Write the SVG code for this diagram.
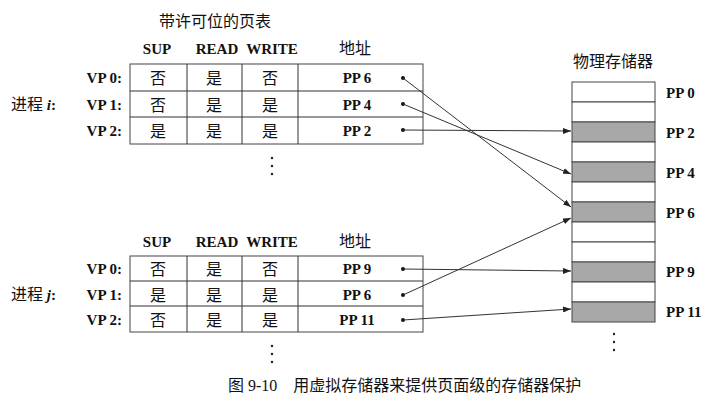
<svg xmlns="http://www.w3.org/2000/svg" width="706" height="406" viewBox="0 0 706 406">
<style>
text{font-family:"Liberation Serif","Noto Sans CJK SC",serif;font-size:15px;fill:#111;font-weight:bold}
.c{text-anchor:middle}
.r{text-anchor:end}
.cell{fill:none;stroke:#444;stroke-width:1}
.ln{stroke:#333;stroke-width:1;fill:none}
.sh{fill:#a8a8a8;stroke:#444}
.wh{fill:#fff;stroke:#444}
.cap{font-weight:normal;font-size:16px}
.zh{font-weight:normal;font-size:16px}
</style>
<defs><marker id="a" markerWidth="8" markerHeight="6" refX="8" refY="3" orient="auto" markerUnits="userSpaceOnUse"><path d="M0,0L8,3L0,6z" fill="#222"/></marker></defs>
<g id="table-i">
<text x="215" y="27" class="c zh">带许可位的页表</text>
<text x="157" y="54" class="c">SUP</text><text x="217" y="54" class="c">READ</text><text x="272" y="54" class="c">WRITE</text><text x="355" y="54" class="c zh">地址</text>
<rect x="130" y="64" width="293" height="80" class="cell"/>
<path d="M130 91H423M130 117H423M187 64V144M242 64V144M298 64V144" class="ln"/>
<text x="122" y="83" class="r">VP 0:</text><text x="122" y="110" class="r">VP 1:</text><text x="122" y="136" class="r">VP 2:</text>
<text x="56" y="110" class="r"><tspan class="zh">进程</tspan> <tspan font-style="italic">i</tspan>:</text>
<text x="158" y="84" class="c zh">否</text><text x="214" y="84" class="c zh">是</text><text x="270" y="84" class="c zh">否</text><text x="357" y="83" class="c">PP 6</text>
<text x="158" y="111" class="c zh">否</text><text x="214" y="111" class="c zh">是</text><text x="270" y="111" class="c zh">是</text><text x="357" y="110" class="c">PP 4</text>
<text x="158" y="137" class="c zh">是</text><text x="214" y="137" class="c zh">是</text><text x="270" y="137" class="c zh">是</text><text x="357" y="136" class="c">PP 2</text>
<g fill="#222"><circle cx="272" cy="158" r="1.2"/><circle cx="272" cy="166" r="1.2"/><circle cx="272" cy="174" r="1.2"/></g>
</g>
<g id="table-j">
<text x="157" y="247" class="c">SUP</text><text x="217" y="247" class="c">READ</text><text x="272" y="247" class="c">WRITE</text><text x="355" y="247" class="c zh">地址</text>
<rect x="130" y="256" width="293" height="76" class="cell"/>
<path d="M130 281H423M130 306H423M187 256V332M242 256V332M298 256V332" class="ln"/>
<text x="122" y="274" class="r">VP 0:</text><text x="122" y="300" class="r">VP 1:</text><text x="122" y="325" class="r">VP 2:</text>
<text x="56" y="300" class="r"><tspan class="zh">进程</tspan> <tspan font-style="italic">j</tspan>:</text>
<text x="158" y="275" class="c zh">否</text><text x="214" y="275" class="c zh">是</text><text x="270" y="275" class="c zh">否</text><text x="357" y="274" class="c">PP 9</text>
<text x="158" y="301" class="c zh">是</text><text x="214" y="301" class="c zh">是</text><text x="270" y="301" class="c zh">是</text><text x="357" y="300" class="c">PP 6</text>
<text x="158" y="326" class="c zh">否</text><text x="214" y="326" class="c zh">是</text><text x="270" y="326" class="c zh">是</text><text x="357" y="325" class="c">PP 11</text>
<g fill="#222"><circle cx="272" cy="346" r="1.2"/><circle cx="272" cy="354" r="1.2"/><circle cx="272" cy="362" r="1.2"/></g>
</g>
<g id="memory">
<text x="613" y="67" class="c zh">物理存储器</text>
<rect x="572" y="82" width="83" height="20" class="wh"/><rect x="572" y="102" width="83" height="20" class="wh"/>
<rect x="572" y="122" width="83" height="20" class="sh"/><rect x="572" y="142" width="83" height="20" class="wh"/>
<rect x="572" y="162" width="83" height="20" class="sh"/><rect x="572" y="182" width="83" height="20" class="wh"/>
<rect x="572" y="202" width="83" height="20" class="sh"/><rect x="572" y="222" width="83" height="20" class="wh"/>
<rect x="572" y="242" width="83" height="20" class="wh"/><rect x="572" y="262" width="83" height="20" class="sh"/>
<rect x="572" y="282" width="83" height="20" class="wh"/><rect x="572" y="302" width="83" height="20" class="sh"/>
<text x="666" y="98">PP 0</text><text x="666" y="138">PP 2</text><text x="666" y="178">PP 4</text><text x="666" y="218">PP 6</text><text x="666" y="277">PP 9</text><text x="666" y="317">PP 11</text>
<g fill="#222"><circle cx="614" cy="334" r="1.2"/><circle cx="614" cy="342" r="1.2"/><circle cx="614" cy="350" r="1.2"/></g>
</g>
<g id="connectors" fill="#111">
<circle cx="403" cy="78" r="2"/><circle cx="403" cy="104" r="2"/><circle cx="403" cy="130" r="2"/>
<circle cx="403" cy="269" r="2"/><circle cx="403" cy="295" r="2"/><circle cx="403" cy="320" r="2"/>
<g class="ln" marker-end="url(#a)">
<path d="M403 78L571 207"/><path d="M403 104L571 174"/><path d="M403 130L571 131"/>
<path d="M403 269L571 271"/><path d="M403 295L571 218"/><path d="M403 320L571 309"/>
</g>
</g>
<text x="228" y="391" class="cap">图 9-10　用虚拟存储器来提供页面级的存储器保护</text>
</svg>
